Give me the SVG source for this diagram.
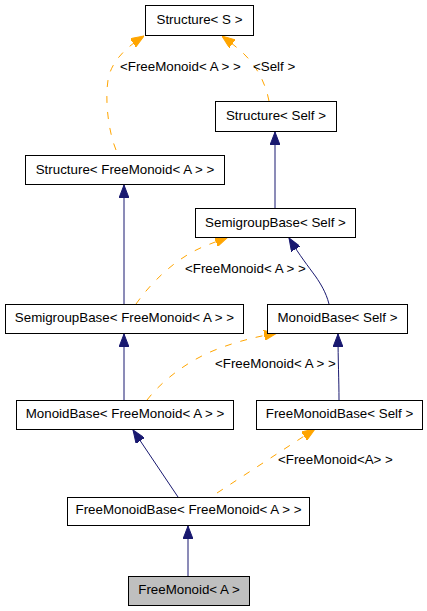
<svg xmlns="http://www.w3.org/2000/svg" width="427" height="611" viewBox="0 0 427 611">
<style>
.box{fill:#ffffff;stroke:#000000;stroke-width:1}
.cur{fill:#bfbfbf;stroke:#000000;stroke-width:1}
.t{font-family:"Liberation Sans",Arial,Helvetica,sans-serif;font-size:13.33px;fill:#000000;text-anchor:middle}
.lbl{font-family:"Liberation Sans",Arial,Helvetica,sans-serif;font-size:13.33px;fill:#000000}
.inh{fill:none;stroke:#191970;stroke-width:1;marker-end:url(#an)}
.tpl{fill:none;stroke:#ffa500;stroke-width:1;stroke-dasharray:7,9;marker-end:url(#ao)}
</style>
<defs>
<marker id="an" markerUnits="userSpaceOnUse" markerWidth="13" markerHeight="10" viewBox="0 0 13 10" refX="13" refY="5" orient="auto">
<path d="M0,0 L13,5 L0,10 z" fill="#191970" stroke="#191970" stroke-width="1"/>
</marker>
<marker id="ao" markerUnits="userSpaceOnUse" markerWidth="13" markerHeight="10" viewBox="0 0 13 10" refX="13" refY="5" orient="auto">
<path d="M0,0 L13,5 L0,10 z" fill="#ffa500" stroke="#ffa500" stroke-width="1"/>
</marker>
</defs>
<rect width="427" height="611" fill="#ffffff"/>
<g id="connectors">
<path class="tpl" d="M116,150 C108,130 105,100 108,80 C111,62 125,48 144,36"/>
<path class="tpl" d="M269,101 C266,85 258,68 245,55 C238,48 230,42 222,36"/>
<path class="inh" d="M275,208 L275,132"/>
<path class="inh" d="M124,304 L124,185"/>
<path class="tpl" d="M136,304 C150,284 175,258 205,246 L228,237"/>
<path class="inh" d="M329,304 C326,292 320,283 316,277 C308,266 300,256 289,238"/>
<path class="inh" d="M124,400 L124,334"/>
<path class="tpl" d="M147,400 C160,383 185,362 215,350 C235,342 255,337 277,333"/>
<path class="inh" d="M339,400 C339,380 338,360 338,334"/>
<path class="inh" d="M178,497 L133,430"/>
<path class="tpl" d="M217,493 L315,429"/>
<path class="inh" d="M188,576 L188,526"/>
<text class="lbl" x="120" y="71">&lt;FreeMonoid&lt; A &gt; &gt;</text>
<text class="lbl" x="253" y="71">&lt;Self &gt;</text>
<text class="lbl" x="185" y="273">&lt;FreeMonoid&lt; A &gt; &gt;</text>
<text class="lbl" x="215" y="368">&lt;FreeMonoid&lt; A &gt; &gt;</text>
<text class="lbl" x="278" y="464">&lt;FreeMonoid&lt;A&gt; &gt;</text>
</g>
<g id="n1"><rect class="box" x="145.5" y="5.5" width="108" height="30"/><text class="t" x="199.5" y="24">Structure&lt; S &gt;</text></g>
<g id="n2"><rect class="box" x="215.5" y="101.5" width="121" height="30"/><text class="t" x="276" y="120">Structure&lt; Self &gt;</text></g>
<g id="n3"><rect class="box" x="25.5" y="155.5" width="199" height="29"/><text class="t" x="125" y="173.5">Structure&lt; FreeMonoid&lt; A &gt; &gt;</text></g>
<g id="n4"><rect class="box" x="195.5" y="208.5" width="160" height="29"/><text class="t" x="275.5" y="226.5">SemigroupBase&lt; Self &gt;</text></g>
<g id="n5"><rect class="box" x="5.5" y="304.5" width="238" height="29"/><text class="t" x="124.5" y="322">SemigroupBase&lt; FreeMonoid&lt; A &gt; &gt;</text></g>
<g id="n6"><rect class="box" x="267.5" y="304.5" width="140" height="29"/><text class="t" x="337.5" y="322">MonoidBase&lt; Self &gt;</text></g>
<g id="n7"><rect class="box" x="16.5" y="400.5" width="217" height="29"/><text class="t" x="125" y="418">MonoidBase&lt; FreeMonoid&lt; A &gt; &gt;</text></g>
<g id="n8"><rect class="box" x="256.5" y="400.5" width="166" height="29"/><text class="t" x="339.5" y="418">FreeMonoidBase&lt; Self &gt;</text></g>
<g id="n9"><rect class="box" x="67.5" y="497.5" width="242" height="28"/><text class="t" x="188.5" y="514">FreeMonoidBase&lt; FreeMonoid&lt; A &gt; &gt;</text></g>
<g id="n10"><rect class="cur" x="128.5" y="576.5" width="121" height="29"/><text class="t" x="189" y="594">FreeMonoid&lt; A &gt;</text></g>
</svg>
